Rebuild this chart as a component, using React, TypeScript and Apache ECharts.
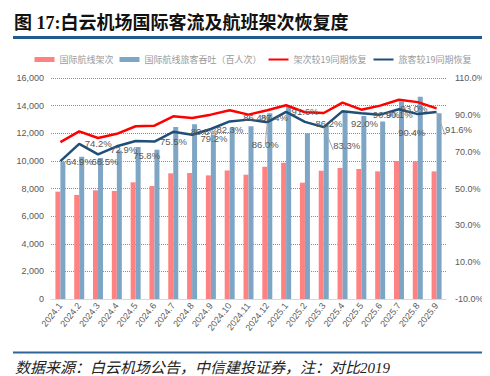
import React, { useEffect, useRef } from 'react';
import * as echarts from 'echarts';

const categories = ['2024.1', '2024.2', '2024.3', '2024.4', '2024.5', '2024.6', '2024.7', '2024.8', '2024.9', '2024.10', '2024.11', '2024.12', '2025.1', '2025.2', '2025.3', '2025.4', '2025.5', '2025.6', '2025.7', '2025.8', '2025.9'];
// 国际航线架次
const flights = [7770, 7530, 7870, 7820, 8450, 8180, 9100, 9120, 8950, 9300, 9000, 9580, 9870, 8420, 9290, 9480, 9410, 9240, 9990, 9970, 9240];
// 国际航线旅客吞吐（百人次）
const passengers = [9950, 10300, 10200, 10750, 11000, 10800, 12450, 12650, 11900, 12400, 12500, 13450, 13950, 12000, 12600, 13600, 13250, 12850, 14300, 14650, 13450];
// 架次较19同期恢复 (%)
const flightRecovery = [75.2, 81.0, 77.4, 79.7, 83.8, 84.1, 89.2, 88.3, 90.1, 92.5, 90.1, 92.5, 95.2, 91.4, 91.0, 96.6, 92.8, 95.0, 98.2, 96.9, 93.5];
// 旅客较19同期恢复 (%)
const passengerRecovery = [64.9, 74.2, 68.5, 72.9, 75.8, 75.5, 80.8, 79.2, 82.3, 86.4, 87.4, 86.0, 91.6, 86.2, 83.3, 92.0, 90.9, 90.1, 93.0, 90.4, 91.6];

const leftMin = 0;
const leftMax = 16000;
const leftStep = 2000;
const rightMin = -10;
const rightMax = 110;

// label nudges (style only), relative to the default "right" placement
const labelNudge: { [i: number]: number[] } = {
  2: [-12, 7], 3: [-12, 3], 4: [-8, 15], 6: [12, 0], 7: [3, 4], 9: [8, -4], 10: [7, -2],
  11: [-21, 22], 13: [5, 2], 14: [4, 18], 15: [3, 12], 16: [6, 1], 18: [-4, -1], 19: [-25, 18], 20: [3, 18],
};
const leaderIdx = [11, 14, 20];

const serifStack = '"Liberation Serif", "Noto Sans CJK SC", serif';
const sansNum = '"Liberation Sans", Arial, sans-serif';
const cjk = '"Noto Sans CJK SC", sans-serif';

export default function App() {
  const ref = useRef<HTMLDivElement>(null);
  useEffect(() => {
    if (!ref.current) return;
    const chart = echarts.init(ref.current, undefined, { renderer: 'svg' });
    const pData = passengerRecovery.map((v, i) => {
      const item: any = { value: v };
      if (labelNudge[i]) item.label = { offset: labelNudge[i] };
      if (leaderIdx.indexOf(i) >= 0) item.labelLine = { show: true };
      return item;
    });
    const option: any = {
      animation: false,
      backgroundColor: '#ffffff',
      tooltip: { show: false },
      grid: { left: 43, right: 52, top: 70, bottom: 85 },
      legend: {
        top: 42,
        left: 'center',
        itemWidth: 20,
        itemHeight: 5,
        itemGap: 6,
        textStyle: { fontSize: 9, color: '#9a9a9a', fontFamily: cjk },
        data: [
          { name: '国际航线架次', icon: 'rect' },
          { name: '国际航线旅客吞吐（百人次）', icon: 'rect' },
          { name: '架次较19同期恢复' },
          { name: '旅客较19同期恢复' },
        ],
      },
      xAxis: {
        type: 'category',
        data: categories,
        axisLine: { lineStyle: { color: '#D9D9D9', width: 1 } },
        axisTick: { show: false },
        axisLabel: { interval: 0, rotate: 52, fontSize: 9, color: '#595959', margin: 5, fontFamily: sansNum },
      },
      yAxis: [
        {
          type: 'value',
          min: leftMin,
          max: leftMax,
          interval: leftStep,
          axisLine: { show: false },
          axisTick: { show: false },
          axisLabel: { fontSize: 9, color: '#595959', margin: 7, fontFamily: sansNum },
          splitLine: { lineStyle: { type: 'dotted', color: '#8C8C8C', width: 1 } },
        },
        {
          type: 'value',
          min: rightMin,
          max: rightMax,
          interval: 10,
          alignTicks: false,
          axisLine: { show: false },
          axisTick: { show: false },
          splitLine: { show: false },
          axisLabel: {
            fontSize: 9,
            color: '#595959',
            margin: 9,
            fontFamily: sansNum,
            formatter: (v: number) => {
              const r = Math.round(v);
              return (r - rightMin) % 20 === 0 ? r.toFixed(1) + '%' : '';
            },
          },
        },
      ],
      series: [
        {
          name: '国际航线架次',
          type: 'bar',
          yAxisIndex: 0,
          data: flights,
          barWidth: 5,
          barGap: '0%',
          itemStyle: { color: '#FF8282' },
        },
        {
          name: '国际航线旅客吞吐（百人次）',
          type: 'bar',
          yAxisIndex: 0,
          data: passengers,
          barWidth: 5,
          barGap: '0%',
          itemStyle: { color: '#7FA5C4' },
        },
        {
          name: '架次较19同期恢复',
          type: 'line',
          yAxisIndex: 1,
          data: flightRecovery,
          showSymbol: false,
          symbol: 'circle',
          symbolSize: 1,
          color: '#FF0000',
          itemStyle: { color: 'transparent', borderWidth: 0 },
          lineStyle: { color: '#FF0000', width: 2.5 },
        },
        {
          name: '旅客较19同期恢复',
          type: 'line',
          yAxisIndex: 1,
          data: pData,
          showSymbol: true,
          symbol: 'circle',
          symbolSize: 1,
          color: '#1F4E79',
          itemStyle: { color: 'transparent', borderWidth: 0 },
          lineStyle: { color: '#1F4E79', width: 2.5 },
          label: {
            show: true,
            position: 'right',
            distance: 5,
            fontSize: 9.5,
            color: '#595959',
            fontFamily: sansNum,
            formatter: (p: any) => Number(p.value).toFixed(1) + '%',
          },
          labelLine: { show: false, lineStyle: { color: '#A6A6A6', width: 1 } },
        },
      ],
      graphic: [
        {
          type: 'text',
          left: 6,
          top: 6,
          style: { text: '图 17:白云机场国际客流及航班架次恢复度', fontSize: 18, fontWeight: 'bold', fill: '#111', fontFamily: serifStack },
        },
        { type: 'rect', shape: { x: 5, y: 28, width: 480, height: 3 }, style: { fill: '#215A8C' } },
        { type: 'rect', shape: { x: 5, y: 343.5, width: 480, height: 2 }, style: { fill: '#2F6496' } },
        {
          type: 'text',
          x: 7,
          y: 360,
          style: { text: '数据来源：白云机场公告，中信建投证券，注：对比2019', fontSize: 15, lineHeight: 16, fontStyle: 'italic', fill: '#222', fontFamily: serifStack, verticalAlign: 'middle', align: 'left' },
        },
      ],
    };
    chart.setOption(option);
    return () => chart.dispose();
  }, []);
  return <div ref={ref} style={{ position: 'fixed', left: 0, top: 0, width: 490, height: 376, background: '#fff' }} />;
}
